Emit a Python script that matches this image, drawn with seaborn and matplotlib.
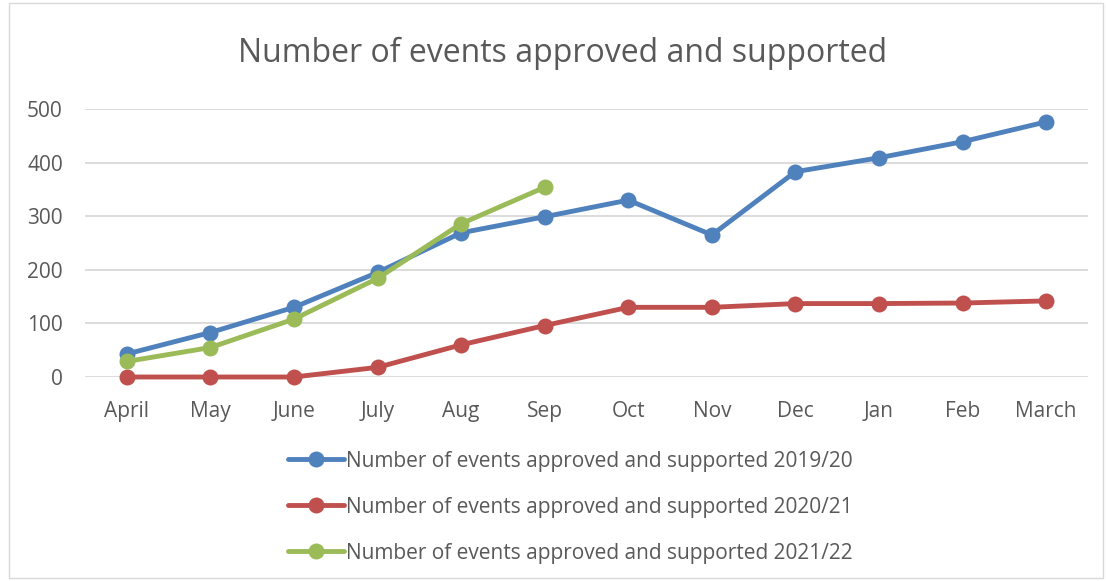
import matplotlib
matplotlib.use("Agg")
import matplotlib.pyplot as plt
import seaborn as sns
import pandas as pd
from matplotlib.patches import Rectangle

months = ["April", "May", "June", "July", "Aug", "Sep", "Oct", "Nov", "Dec", "Jan", "Feb", "March"]
s2019 = [43, 83, 130, 195, 269, 299, 330, 265, 383, 409, 439, 476]
s2020 = [0, 0, 0, 18, 60, 96, 130, 130, 137, 137, 138, 142]
s2021 = [29, 55, 108, 184, 286, 354]
series_names = ["Number of events approved and supported 2019/20",
                "Number of events approved and supported 2020/21",
                "Number of events approved and supported 2021/22"]
colors = ["#4F81BD", "#C0504D", "#9BBB59"]
yticks = [0, 100, 200, 300, 400, 500]
title = "Number of events approved and supported"

rows = []
for name, vals in zip(series_names, [s2019, s2020, s2021]):
    for m, v in zip(months, vals):
        rows.append({"month": m, "value": v, "series": name})
df = pd.DataFrame(rows)
df["x"] = df["month"].map({m: i for i, m in enumerate(months)})

sns.set_theme(style="white")
plt.rcParams["font.family"] = ["Open Sans", "DejaVu Sans"]
text_color = "#595959"

fig = plt.figure(figsize=(11.06, 5.81), dpi=100)
ax = fig.add_axes([85/1106, 1-377/581, (1088-85)/1106, (377-109)/581])

sns.lineplot(data=df, x="x", y="value", hue="series", palette=colors,
             hue_order=series_names, marker="o", markersize=11.5, linewidth=3.5,
             markeredgewidth=0, sort=False, ax=ax, legend=True)
for ln in ax.lines:
    ln.set_clip_on(False)

ax.set_xlim(-0.5, len(months) - 0.5)
ax.set_ylim(0, 500)
ax.set_xticks(range(len(months)))
ax.set_xticklabels(months)
ax.set_yticks(yticks)
ax.tick_params(axis="both", labelsize=15, colors=text_color, length=0)
ax.tick_params(axis="x", pad=17)
ax.tick_params(axis="y", pad=16)
ax.set_xlabel("")
ax.set_ylabel("")
ax.grid(axis="y", color="#D9D9D9", linewidth=1.3)
ax.set_axisbelow(True)
for s in ax.spines.values():
    s.set_visible(False)

handles, labels = ax.get_legend_handles_labels()
ax.get_legend().remove()
leg = fig.legend(handles, labels, loc="center", bbox_to_anchor=(570/1106, 1-507/581),
                 ncol=1, frameon=False, fontsize=15, labelcolor=text_color,
                 handlelength=2.7, handletextpad=0.1, labelspacing=1.2)

fig.text(563/1106, 1-53/581, title, ha="center", va="center", fontsize=23, color=text_color)

fig.patches.append(Rectangle((9/1106, 3/581), (1103-9)/1106, (578-3)/581, transform=fig.transFigure,
                             fill=False, edgecolor="#D9D9D9", linewidth=1))

fig.savefig("out.png", dpi=100)
